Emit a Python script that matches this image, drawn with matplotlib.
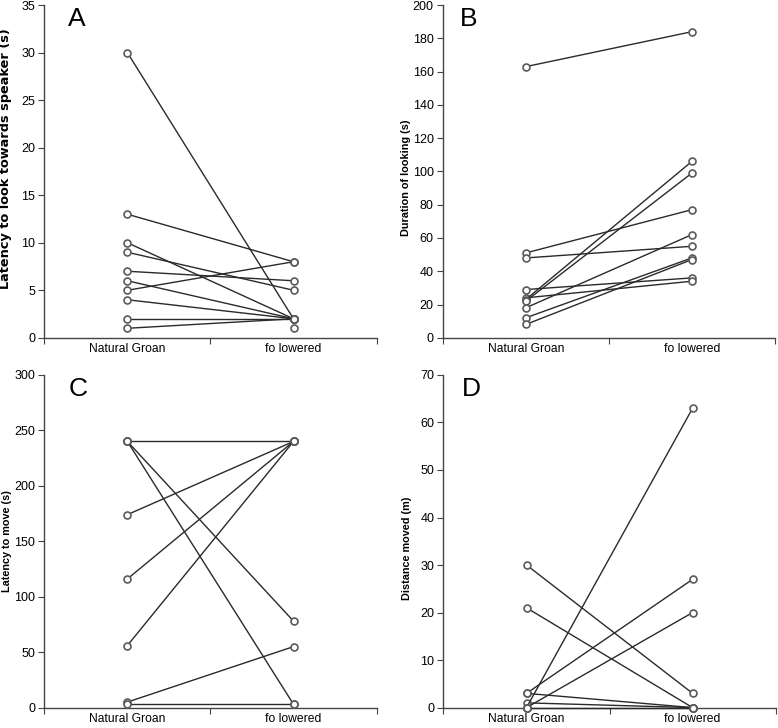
"""Paired plots: natural groan vs fo lowered"""

from matplotlib import pyplot as plt
import numpy as np

plt.rcParams["font.family"] = ["Liberation Sans", "DejaVu Sans"]

kategorie = ["Natural Groan", "fo lowered"]

# A - latency to look towards speaker (s)
a_natural = [30, 13, 10, 9, 7, 6, 5, 4, 2, 1, np.nan]
a_obnizony = [2, 8, 2, 5, 6, 2, 8, 2, 2, 2, 1]

# B - duration of looking (s)
b_natural = [163, 51, 48, 29, 24, 23, 22, 18, 12, 8]
b_obnizony = [184, 77, 55, 36, 34, 106, 99, 62, 48, 47]

# C - latency to move (s)
c_natural = [240, 240, 240, 174, 116, 56, 5, 3]
c_obnizony = [240, 78, 3, 240, 240, 240, 55, 3]

# D - distance moved (m)
d_natural = [30, 21, 3, 3, 1, 0, 0, 0]
d_obnizony = [3, 0, 27, 0, 0, 63, 20, 0]

panele = [
    ("A", a_natural, a_obnizony, "Latency to look towards speaker (s)", 35, 5),
    ("B", b_natural, b_obnizony, "Duration of looking (s)", 200, 20),
    ("C", c_natural, c_obnizony, "Latency to move (s)", 300, 50),
    ("D", d_natural, d_obnizony, "Distance moved (m)", 70, 10),
]

# polozenie osi w ulamkach figury
pozycje = [
    [0.057, 0.536, 0.427, 0.457],
    [0.569, 0.536, 0.427, 0.457],
    [0.057, 0.028, 0.427, 0.457],
    [0.570, 0.028, 0.427, 0.457],
]
# polozenie liter i opisow osi OY (w ukladzie osi)
litery_x = [0.072, 0.052, 0.072, 0.055]
opis_y = [0.54, 0.48, 0.50, 0.48]
opis_rozmiar = [9.3, 7.8, 7.8, 7.8]
opis_czcionka = ["DejaVu Sans", "Liberation Sans", "Liberation Sans",
                 "Liberation Sans"]

fig = plt.figure(figsize=(7.78, 7.28), dpi=100, facecolor="white")

for i, ((litera, lewe, prawe, opis, y_max, krok), poz) in enumerate(
        zip(panele, pozycje)):
    ax = fig.add_axes(poz)
    for y0, y1 in zip(lewe, prawe):
        ax.plot([0.5, 1.5], [y0, y1], "-", color="#2a2a2a", lw=1.0,
                marker="o", markersize=5, markerfacecolor="white",
                markeredgecolor="#5a5a5a", markeredgewidth=1.2,
                clip_on=False, zorder=3)
    ax.set_xlim(0, 2)
    ax.set_ylim(0, y_max)
    ax.set_yticks(np.arange(0, y_max + krok, krok))
    ax.set_xticks([0, 1, 2])
    ax.set_xticklabels([])
    ax.set_xticks([0.5, 1.5], minor=True)
    ax.set_xticklabels(kategorie, minor=True)
    ax.tick_params(axis="x", which="minor", length=0, pad=4, labelsize=8.7)
    ax.tick_params(axis="x", which="major", length=4, direction="out",
                   color="#444444")
    ax.tick_params(axis="y", length=4, direction="out", labelsize=9,
                   pad=2.5, color="#444444")
    for s in ["top", "right"]:
        ax.spines[s].set_visible(False)
    for s in ["left", "bottom"]:
        ax.spines[s].set_color("#444444")
        ax.spines[s].set_linewidth(1.0)
    ax.set_ylabel(opis, fontsize=opis_rozmiar[i], fontweight="bold",
                  family=[opis_czcionka[i], "DejaVu Sans"])
    ax.yaxis.set_label_coords(-0.096, opis_y[i])
    ax.text(litery_x[i], 0.995, litera, transform=ax.transAxes, fontsize=19,
            va="top", ha="left")

plt.savefig("out.png", dpi=100)
